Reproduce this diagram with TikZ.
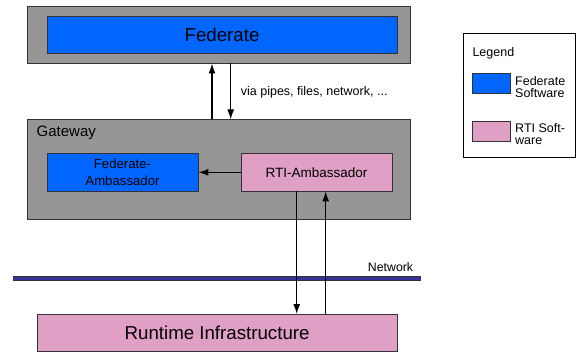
\documentclass[tikz,border=0pt]{standalone}
\usepackage{fontspec}
\setmainfont{Liberation Sans}
\usetikzlibrary{arrows.meta}
\definecolor{boxgray}{HTML}{969696}
\definecolor{fedblue}{HTML}{0066FF}
\definecolor{rtipink}{HTML}{E09FC5}
\definecolor{netblue}{HTML}{333399}
\definecolor{edge}{HTML}{333333}
\begin{document}
\begin{tikzpicture}[x=1pt,y=-1pt,
  box/.style={draw=edge,line width=0.8pt,inner sep=0pt,anchor=north west},
  graybox/.style={box,fill=boxgray},
  fedbox/.style={box,fill=fedblue},
  rtibox/.style={box,fill=rtipink},
  arr/.style={line width=1.3pt,-{Latex[length=10pt,width=7pt]}},
  lbl/.style={inner sep=0pt,anchor=west}]
\useasboundingbox (0,0) rectangle (579,353);
% Federate
\node[graybox,minimum width=383pt,minimum height=56.5pt] (fedouter) at (27.3,6.2) {};
\node[fedbox,minimum width=350pt,minimum height=37.5pt,font=\fontsize{18.7}{22}\selectfont] (fed) at (46.6,15.6) {Federate};
% Gateway
\node[graybox,minimum width=383pt,minimum height=99.5pt] (gw) at (27.3,119.5) {};
\node[lbl,font=\fontsize{15}{18}\selectfont] (gwlbl) at (36.5,133.3) {Gateway};
\node[fedbox,minimum width=151pt,minimum height=37.3pt,align=center,font=\fontsize{13.2}{16.5}\selectfont] (fedamb) at (46.6,153.3) {Federate-\\Ambassador};
\node[rtibox,minimum width=151pt,minimum height=37.3pt,font=\fontsize{13.5}{16}\selectfont] (rtiamb) at (240.6,153.3) {RTI-Ambassador};
% RTI
\node[rtibox,minimum width=360pt,minimum height=36.7pt,font=\fontsize{18.7}{22}\selectfont] (rti) at (36.7,314) {Runtime Infrastructure};
% Network
\coordinate (netL) at (13.3,278.3);
\coordinate (netR) at (420.7,278.3);
\draw[line width=4.4pt,edge] (netL) -- (netR);
\draw[line width=3pt,netblue] (netL) -- (netR);
\node[inner sep=0pt,anchor=east,font=\fontsize{12.3}{14}\selectfont] (netlbl) at (413.3,266.7) {Network};
% connectors
\coordinate (upx) at (212,0);
\coordinate (dnx) at (230.7,0);
\coordinate (rdx) at (296.7,0);
\coordinate (rux) at (325.7,0);
\draw[arr] (gw.north -| upx) -- (fedouter.south -| upx);
\draw[arr] (fedouter.south -| dnx) -- (gw.north -| dnx);
\node[lbl,font=\fontsize{12.5}{14}\selectfont] (via) at (240.7,92) {via pipes, files, network, ...};
\draw[arr] (rtiamb.west) -- (fedamb.east);
\draw[arr] (rtiamb.south -| rdx) -- (rti.north -| rdx);
\draw[arr] (rti.north -| rux) -- (rtiamb.south -| rux);
% Legend
\node[draw=black,line width=0.8pt,inner sep=0pt,anchor=north west,minimum width=112pt,minimum height=124pt] (legend) at (463.3,33.3) {};
\node[lbl,font=\fontsize{12.5}{14}\selectfont] (legtitle) at (472.3,53.3) {Legend};
\node[fedbox,minimum width=37.7pt,minimum height=20pt] (legfed) at (472.3,73.3) {};
\node[lbl,align=left,font=\fontsize{12.5}{12.5}\selectfont] (legfedtxt) at (515,87.2) {Federate\\Software};
\node[rtibox,minimum width=37.7pt,minimum height=20.3pt] (legrti) at (472.3,120.7) {};
\node[lbl,align=left,font=\fontsize{12.5}{12.5}\selectfont] (legrtitxt) at (515,134.2) {RTI Soft-\\ware};
\end{tikzpicture}
\end{document}
